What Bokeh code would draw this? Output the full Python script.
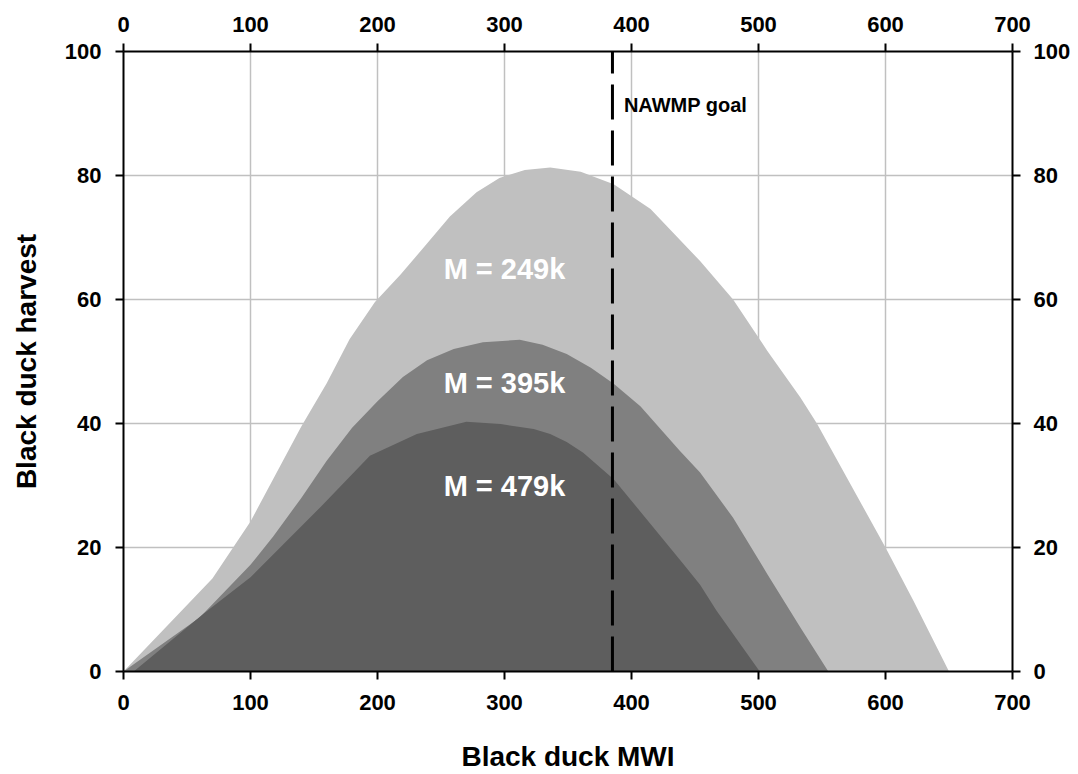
from bokeh.plotting import figure
from bokeh.models import LinearAxis, Range1d, FixedTicker
from bokeh.core.properties import value
from bokeh.embed import file_html
from bokeh.resources import INLINE

# ---- data ----
x_ticks = [0, 100, 200, 300, 400, 500, 600, 700]
y_ticks = [0, 20, 40, 60, 80, 100]

# M = 249k
light_x = [0, 70, 100, 140, 160, 178, 198, 218, 236, 257, 278, 296, 316, 336, 360, 386, 415, 454, 480, 507, 533, 546, 600, 622, 650]
light_y = [0, 15.0, 24.2, 39.5, 46.5, 53.6, 59.6, 64.0, 68.3, 73.4, 77.3, 79.6, 80.9, 81.3, 80.6, 78.6, 74.6, 66.2, 60.0, 51.7, 44.2, 40.0, 20.0, 11.4, 0]

# M = 395k
medium_x = [0, 60, 100, 118, 140, 160, 180, 200, 220, 239, 260, 283, 312, 330, 349, 368, 386, 407, 438, 454, 480, 507, 533, 555]
medium_y = [0, 8.7, 17.2, 21.8, 28.0, 34.0, 39.3, 43.6, 47.5, 50.2, 52.0, 53.1, 53.5, 52.7, 51.2, 49.0, 46.4, 42.8, 35.6, 32.1, 24.8, 15.7, 7.1, 0]

# M = 479k
dark_x = [8, 63, 100, 155, 194, 231, 270, 297, 323, 336, 349, 362, 386, 415, 441, 454, 467, 501]
dark_y = [0, 9.3, 15.2, 26.5, 34.8, 38.3, 40.3, 39.9, 39.1, 38.3, 37.0, 35.3, 31.0, 23.8, 17.3, 14.0, 9.8, 0]

series_labels = ["M = 249k", "M = 395k", "M = 479k"]
nawmp_goal = 385

FONT = "Liberation Sans"

p = figure(
    frame_width=889, frame_height=620,
    x_range=Range1d(0, 700), y_range=Range1d(0, 100),
    output_backend="svg", toolbar_location=None,
    min_border_left=123, min_border_right=60,
    min_border_top=51, min_border_bottom=102,
    background_fill_color="white", border_fill_color="white",
)
p.outline_line_color = None

# grid
for g, t in ((p.xgrid[0], x_ticks), (p.ygrid[0], y_ticks)):
    g.ticker = FixedTicker(ticks=t)
    g.grid_line_color = "#c0c0c0"
    g.grid_line_width = 1.5

# filled areas
p.varea(x=light_x, y1=0, y2=light_y, fill_color="#c0c0c0")
p.varea(x=medium_x, y1=0, y2=medium_y, fill_color="#808080")
p.varea(x=dark_x, y1=0, y2=dark_y, fill_color="#5e5e5e")

# NAWMP goal line
p.line(x=[nawmp_goal, nawmp_goal], y=[y_ticks[0], y_ticks[-1]],
       line_color="black", line_width=3, line_dash="35 11")

# labels
label_x = [300, 300, 300]
label_y = [64.9, 46.6, 30.0]
p.text(x=label_x, y=label_y, text=series_labels,
       text_font=value(FONT), text_font_style="bold", text_font_size="29px",
       text_color="white", text_align="center", text_baseline="middle")
p.text(x=[nawmp_goal + 9], y=[91.4], text=["NAWMP goal"],
       text_font=value(FONT), text_font_style="bold", text_font_size="20px",
       text_color="black", text_align="left", text_baseline="middle")


def style(ax, ticks, standoff):
    ax.ticker = FixedTicker(ticks=ticks)
    ax.axis_line_color = "black"
    ax.axis_line_width = 2
    ax.major_tick_line_color = "black"
    ax.major_tick_line_width = 2
    ax.major_tick_out = 8
    ax.major_tick_in = 0
    ax.minor_tick_line_color = None
    ax.major_label_text_font = FONT
    ax.major_label_text_font_size = "22px"
    ax.major_label_text_font_style = "bold"
    ax.major_label_text_color = "black"
    ax.major_label_standoff = standoff
    ax.axis_label_text_font = FONT
    ax.axis_label_text_font_size = "28px"
    ax.axis_label_text_font_style = "bold"
    ax.axis_label_text_color = "black"


bx = p.xaxis[0]
style(bx, x_ticks, 15)
bx.axis_label = "Black duck MWI"
bx.axis_label_standoff = 28

ly = p.yaxis[0]
style(ly, y_ticks, 14)
ly.axis_label = "Black duck harvest"
ly.axis_label_standoff = 20

top = LinearAxis()
style(top, x_ticks, 12)
p.add_layout(top, "above")

right = LinearAxis()
style(right, y_ticks, 13)
p.add_layout(right, "right")

open("out.html", "w").write(file_html(p, INLINE))
